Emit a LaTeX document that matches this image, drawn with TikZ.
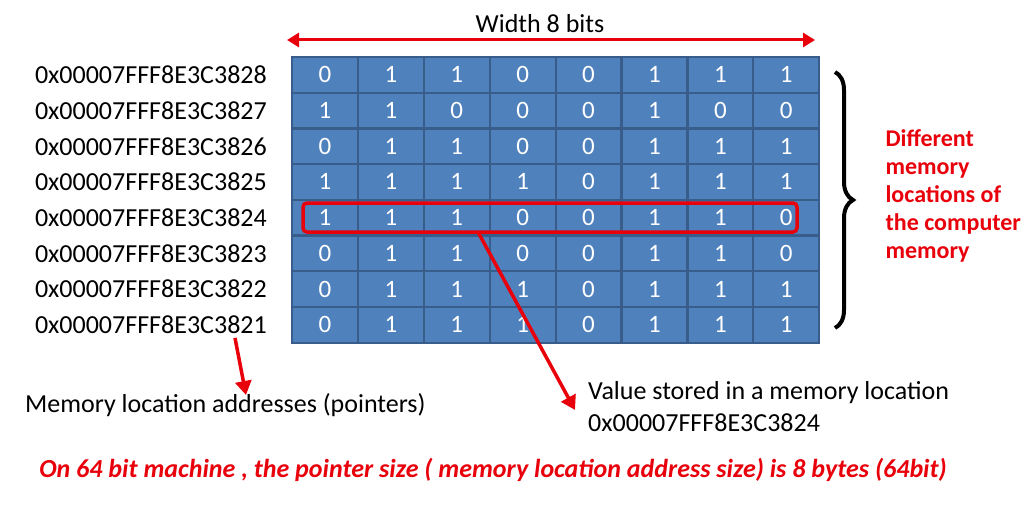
\documentclass[tikz,border=0pt]{standalone}
\usepackage{fontspec}
\setmainfont{Carlito}
\usetikzlibrary{decorations.pathreplacing,arrows.meta}
\definecolor{cellblue}{HTML}{4F81BD}
\definecolor{celledge}{HTML}{385D8A}
\definecolor{markred}{HTML}{E8000B}
\begin{document}
\begin{tikzpicture}[x=1pt,y=-1pt,
    cell/.style={draw=celledge, line width=2.2pt, fill=cellblue, text=white, minimum width=65.9pt, minimum height=35.7pt, inner sep=0pt, font=\fontsize{25}{25}\selectfont},
    addr/.style={anchor=east, font=\fontsize{26}{28}\selectfont, inner sep=0pt},
    redarrow/.style={draw=markred, line width=3.5pt, -{Triangle[length=14pt,width=16pt]}}]

    \useasboundingbox (0,0) rectangle (1024,511);

    % Memory cells
    \foreach \row [count=\i] in {{0,1,1,0,0,1,1,1},{1,1,0,0,0,1,0,0},{0,1,1,0,0,1,1,1},{1,1,1,1,0,1,1,1},{1,1,1,0,0,1,1,0},{0,1,1,0,0,1,1,0},{0,1,1,1,0,1,1,1},{0,1,1,1,0,1,1,1}}
        \foreach \b [count=\j] in \row
            \node[cell] (c-\i-\j) at ({292+65.9*(\j-0.5)},{57+35.7*(\i-0.5)}) {\b};

    % Addresses
    \foreach \a [count=\i] in {8,7,6,5,4,3,2,1}
        \node[addr] (a-\i) at (267,{57+35.7*(\i-0.5)}) {0x00007FFF8E3C382\a};

    % Width arrow
    \coordinate (wl) at (287,40);
    \coordinate (wr) at (815,40);
    \draw[markred, line width=3pt, {Triangle[length=12pt,width=14pt]}-{Triangle[length=12pt,width=14pt]}] (wl) -- (wr);
    \node[font=\fontsize{26}{28}\selectfont] (width) at (540,24) {Width 8 bits};

    % Brace and locations label
    \coordinate (bt) at (835,72);
    \coordinate (bb) at (835,328);
    \draw[line width=4pt, decorate, decoration={brace, amplitude=18pt}] (bt) -- (bb);
    \node[text=markred, font=\bfseries\fontsize{24}{28}\selectfont, align=left, anchor=west] (locs) at (882,196)
        {Different\\memory\\locations of\\the computer\\memory};

    % Highlighted location
    \node[draw=markred, line width=3.5pt, rounded corners=4pt, minimum width=494pt, minimum height=29pt] (hl) at (550,217.5) {};

    % Value text
    \node[anchor=north west, align=left, inner sep=0pt, font=\fontsize{26}{32}\selectfont] (val) at (588,381)
        {Value stored in a memory location\\0x00007FFF8E3C3824};
    \coordinate (valtip) at (575,410);
    \draw[redarrow] (478,232) -- (valtip);

    % Address label
    \node[anchor=west, inner sep=0pt, font=\fontsize{26}{28}\selectfont] (ptrs) at (25,405) {Memory location addresses (pointers)};
    \coordinate (ptrtip) at (246,395);
    \draw[redarrow] (a-8.south east) ++(-32,4) -- (ptrtip);

    % Bottom note
    \node[text=markred, font=\bfseries\itshape\fontsize{26}{28}\selectfont] (note) at (493,470)
        {On 64 bit machine , the pointer size ( memory location address size) is 8 bytes (64bit)};
\end{tikzpicture}
\end{document}
